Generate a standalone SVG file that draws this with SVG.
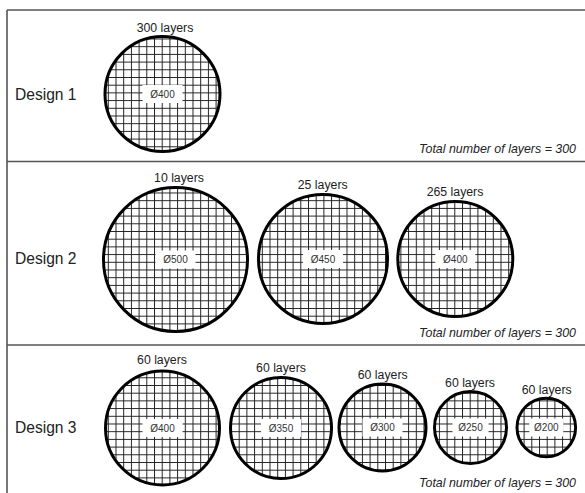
<svg xmlns="http://www.w3.org/2000/svg" width="585" height="493" viewBox="0 0 585 493">
<style>
.frame{stroke:#555;stroke-width:1.6;fill:none}
.disc{stroke:#000;stroke-width:3;fill:url(#grid)}
.box{fill:#fff;stroke:none}
.dia{font-family:"Liberation Sans",Arial,sans-serif;font-size:10px;fill:#333;text-anchor:middle}
.lay{font-family:"Liberation Sans",Arial,sans-serif;font-size:12.3px;fill:#222;text-anchor:middle}
.des{font-family:"Liberation Sans",Arial,sans-serif;font-size:15.6px;fill:#222}
.tot{font-family:"Liberation Sans",Arial,sans-serif;font-size:12.4px;font-style:italic;fill:#222;text-anchor:end}
</style>
<defs>
<pattern id="grid" patternUnits="userSpaceOnUse" width="7.7" height="7.7">
<rect width="7.7" height="7.7" fill="#fff"/>
<path d="M0.5 0V7.7M0 0.5H7.7" stroke="#222" stroke-width="1"/>
</pattern>
</defs>
<rect width="585" height="493" fill="#fff"/>
<g id="frame">
<path class="frame" d="M7 10H585M7 161.5H585M7 345H585M7 10V493"/>
</g>
<g id="connectors"/>
<g id="design1">
<text class="des" x="15" y="100">Design 1</text>
<text class="tot" x="576" y="153">Total number of layers = 300</text>
</g>
<g id="d1c1">
<circle class="disc" cx="162.5" cy="94" r="57.5"/>
<rect class="box" x="142.5" y="85" width="40" height="18"/>
<text class="dia" x="162.5" y="97.5">Ø400</text>
<text class="lay" x="165" y="32">300 layers</text>
</g>
<g id="design2">
<text class="des" x="15" y="264.3">Design 2</text>
<text class="tot" x="576" y="336.7">Total number of layers = 300</text>
</g>
<g id="d2c1">
<circle class="disc" cx="175.5" cy="259.5" r="72"/>
<rect class="box" x="155.5" y="250.5" width="40" height="18"/>
<text class="dia" x="175.5" y="263">Ø500</text>
<text class="lay" x="179" y="181.7">10 layers</text>
</g>
<g id="d2c2">
<circle class="disc" cx="323" cy="259" r="64.5"/>
<rect class="box" x="303" y="250" width="40" height="18"/>
<text class="dia" x="323" y="262.5">Ø450</text>
<text class="lay" x="322.7" y="189">25 layers</text>
</g>
<g id="d2c3">
<circle class="disc" cx="455.3" cy="259" r="57.5"/>
<rect class="box" x="435.3" y="250" width="40" height="18"/>
<text class="dia" x="455.3" y="262.5">Ø400</text>
<text class="lay" x="455" y="195.7">265 layers</text>
</g>
<g id="design3">
<text class="des" x="15" y="433.3">Design 3</text>
<text class="tot" x="576" y="486.7">Total number of layers = 300</text>
</g>
<g id="d3c1">
<circle class="disc" cx="162.5" cy="428" r="57"/>
<rect class="box" x="142.5" y="419" width="40" height="18"/>
<text class="dia" x="162.5" y="431.5">Ø400</text>
<text class="lay" x="162" y="364.3">60 layers</text>
</g>
<g id="d3c2">
<circle class="disc" cx="281" cy="428" r="50.5"/>
<rect class="box" x="261" y="419" width="40" height="18"/>
<text class="dia" x="281" y="431.5">Ø350</text>
<text class="lay" x="281" y="372">60 layers</text>
</g>
<g id="d3c3">
<circle class="disc" cx="382.5" cy="427.5" r="43.5"/>
<rect class="box" x="362.5" y="418.5" width="40" height="18"/>
<text class="dia" x="382.5" y="431">Ø300</text>
<text class="lay" x="382.7" y="379.3">60 layers</text>
</g>
<g id="d3c4">
<circle class="disc" cx="470.5" cy="427.5" r="36"/>
<rect class="box" x="452.5" y="418.5" width="36" height="18"/>
<text class="dia" x="470.5" y="431">Ø250</text>
<text class="lay" x="470" y="386.7">60 layers</text>
</g>
<g id="d3c5">
<circle class="disc" cx="546.3" cy="427.5" r="29.3"/>
<rect class="box" x="529.3" y="418.5" width="34" height="18"/>
<text class="dia" x="546.3" y="431">Ø200</text>
<text class="lay" x="546.7" y="394">60 layers</text>
</g>
</svg>
